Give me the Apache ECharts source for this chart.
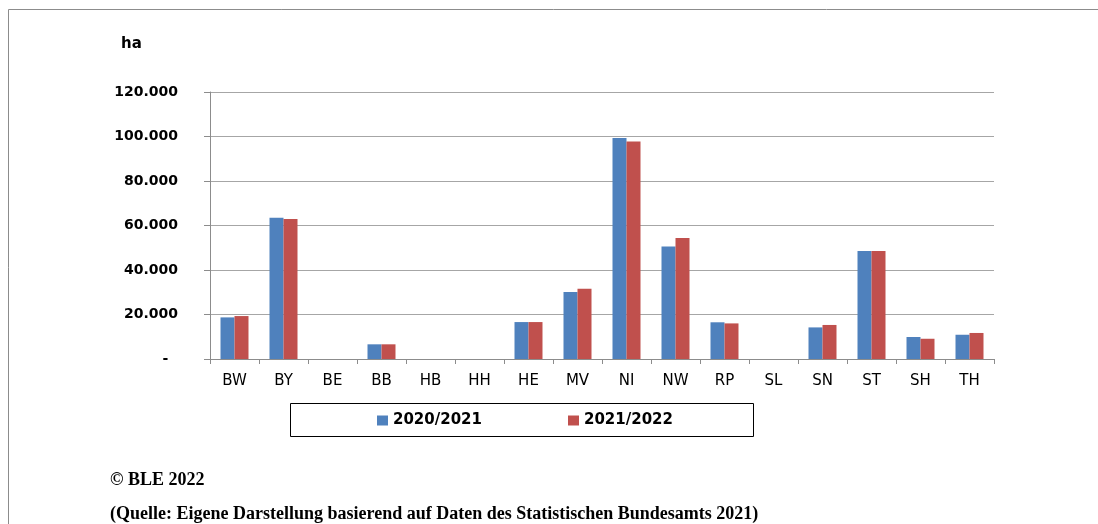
<!DOCTYPE html>
<html>
<head>
<meta charset="utf-8">
<script src="https://cdn.jsdelivr.net/npm/echarts@6/dist/echarts.min.js"></script>
<style>
  html, body { margin: 0; padding: 0; background: #fff; }
  #chart { width: 1098px; height: 524px; }
</style>
</head>
<body>
<div id="chart"></div>
<script>
const categories = ['BW', 'BY', 'BE', 'BB', 'HB', 'HH', 'HE', 'MV', 'NI', 'NW', 'RP', 'SL', 'SN', 'ST', 'SH', 'TH']
const values2021 = [18700, 63500, 0, 6600, 0, 0, 16600, 30100, 99300, 50600, 16500, 0, 14200, 48500, 9900, 10900]
const values2022 = [19300, 62900, 0, 6600, 0, 0, 16600, 31600, 97800, 54400, 16000, 0, 15300, 48500, 9100, 11700]
const seriesNames = ['2020/2021', '2021/2022']

// 120000 -> "120.000", 0 -> "-"
const fmt = (v) => {
  if (v === 0) return '-  '
  return String(v).replace(/\B(?=(\d{3})+(?!\d))/g, '.')
}

const chart = echarts.init(document.getElementById('chart'))

const option = {
  animation: false,
  textStyle: { fontFamily: 'DejaVu Sans' },
  grid: { left: 210, right: 104, top: 92, bottom: 165 },
  legend: {
    data: seriesNames,
    left: 377,
    top: 413,
    padding: 0,
    itemGap: 86,
    itemWidth: 11,
    itemHeight: 10,
    icon: 'rect',
    textStyle: { fontFamily: 'DejaVu Sans', fontWeight: 'bold', fontSize: 15, color: '#000' }
  },
  xAxis: {
    type: 'category',
    data: categories,
    axisLine: { lineStyle: { color: '#8c8c8c', width: 1 } },
    axisTick: { show: true, length: 5, lineStyle: { color: '#8c8c8c' } },
    axisLabel: { color: '#000', fontSize: 15, margin: 15 }
  },
  yAxis: {
    type: 'value',
    min: 0,
    max: 120000,
    interval: 20000,
    axisLine: { show: true, lineStyle: { color: '#8c8c8c', width: 1 } },
    axisTick: { show: true, length: 6, lineStyle: { color: '#8c8c8c' } },
    splitLine: { lineStyle: { color: '#a6a6a6', width: 1 } },
    axisLabel: { color: '#000', fontSize: 14, fontWeight: 'bold', margin: 32, formatter: fmt }
  },
  series: [
    {
      name: seriesNames[0],
      type: 'bar',
      barWidth: 14,
      barGap: '0%',
      itemStyle: { color: '#4f81bd' },
      data: values2021
    },
    {
      name: seriesNames[1],
      type: 'bar',
      barWidth: 14,
      barGap: '0%',
      itemStyle: { color: '#c0504d' },
      data: values2022
    }
  ],
  graphic: [
    {
      type: 'rect',
      shape: { x: 8.5, y: 9.5, width: 1200, height: 600 },
      style: { fill: 'none', stroke: '#8c8c8c', lineWidth: 1 },
      silent: true
    },
    {
      type: 'rect',
      shape: { x: 290.5, y: 403.5, width: 463, height: 33 },
      style: { fill: 'none', stroke: '#000', lineWidth: 1 },
      silent: true
    },
    {
      type: 'text',
      left: 121,
      top: 37,
      style: { text: 'ha', fontFamily: 'DejaVu Sans', fontWeight: 'bold', fontSize: 15, fill: '#000' }
    },
    {
      type: 'text',
      left: 110,
      top: 471,
      style: { text: '© BLE 2022', fontFamily: 'Liberation Serif', fontWeight: 'bold', fontSize: 18, fill: '#000' }
    },
    {
      type: 'text',
      left: 110,
      top: 505,
      style: {
        text: '(Quelle: Eigene Darstellung basierend auf Daten des Statistischen Bundesamts 2021)',
        fontFamily: 'Liberation Serif', fontWeight: 'bold', fontSize: 18, fill: '#000'
      }
    }
  ]
}

chart.setOption(option)
</script>
</body>
</html>
